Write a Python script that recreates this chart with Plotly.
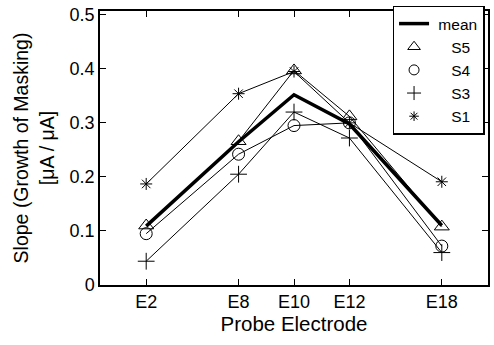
import plotly.graph_objects as go

categories = ["E2", "E8", "E10", "E12", "E18"]
positions = [0, 5, 8, 11, 16]
mean = [0.109, 0.265, 0.352, 0.298, 0.110]
s5 = [0.110, 0.266, 0.397, 0.312, 0.108]
s4 = [0.095, 0.242, 0.295, 0.300, 0.072]
s3 = [0.044, 0.205, 0.320, 0.272, 0.060]
s1 = [0.187, 0.354, 0.395, 0.300, 0.191]

series = [
    ("S5", s5, "triangle-up-open", 13),
    ("S4", s4, "circle-open", 12),
    ("S3", s3, "cross-thin-open", 12),
    ("S1", s1, "asterisk-open", 10),
]

fig = go.Figure()
for name, vals, sym, sz in series:
    fig.add_trace(go.Scatter(
        x=positions, y=vals, mode="lines+markers", showlegend=False,
        line=dict(color="black", width=1),
        marker=dict(symbol=sym, size=sz, color="black", line=dict(color="black", width=1)),
    ))
fig.add_trace(go.Scatter(x=positions, y=mean, mode="lines", name=" mean",
                         line=dict(color="black", width=3.5)))
for name, vals, sym, sz in series:
    fig.add_trace(go.Scatter(
        x=[None], y=[None], mode="markers", name="    " + name,
        marker=dict(symbol=sym, size=sz - 2, color="black", line=dict(color="black", width=1)),
    ))

font = "Liberation Sans, Arial, sans-serif"
fig.update_layout(
    width=494, height=345,
    margin=dict(l=100, r=4, t=11, b=60),
    paper_bgcolor="white", plot_bgcolor="white",
    font=dict(family=font, size=18, color="black"),
    legend=dict(x=0.754, y=1.02, xanchor="left", yanchor="top",
                bordercolor="black", borderwidth=1.5, bgcolor="white",
                font=dict(size=15.5), tracegroupgap=0, itemsizing="trace"),
    xaxis=dict(
        range=[-2.5, 18.5], tickvals=positions, ticktext=categories,
        showline=True, linecolor="black", linewidth=1.5, mirror="allticks",
        ticks="inside", ticklen=6, tickcolor="black", showgrid=False, zeroline=False,
        title=dict(text="Probe Electrode", font=dict(size=20.5), standoff=2),
    ),
    yaxis=dict(
        range=[0, 0.507], tickvals=[0, 0.1, 0.2, 0.3, 0.4, 0.5],
        ticktext=["0", "0.1", "0.2", "0.3", "0.4", "0.5"],
        showline=True, linecolor="black", linewidth=1.5, mirror="allticks",
        ticks="inside", ticklen=6, tickcolor="black", showgrid=False, zeroline=False,
        title=dict(text="Slope (Growth of Masking)<br>[μA / μA]", font=dict(size=19.5), standoff=10),
    ),
)
fig.write_html("out.html")
